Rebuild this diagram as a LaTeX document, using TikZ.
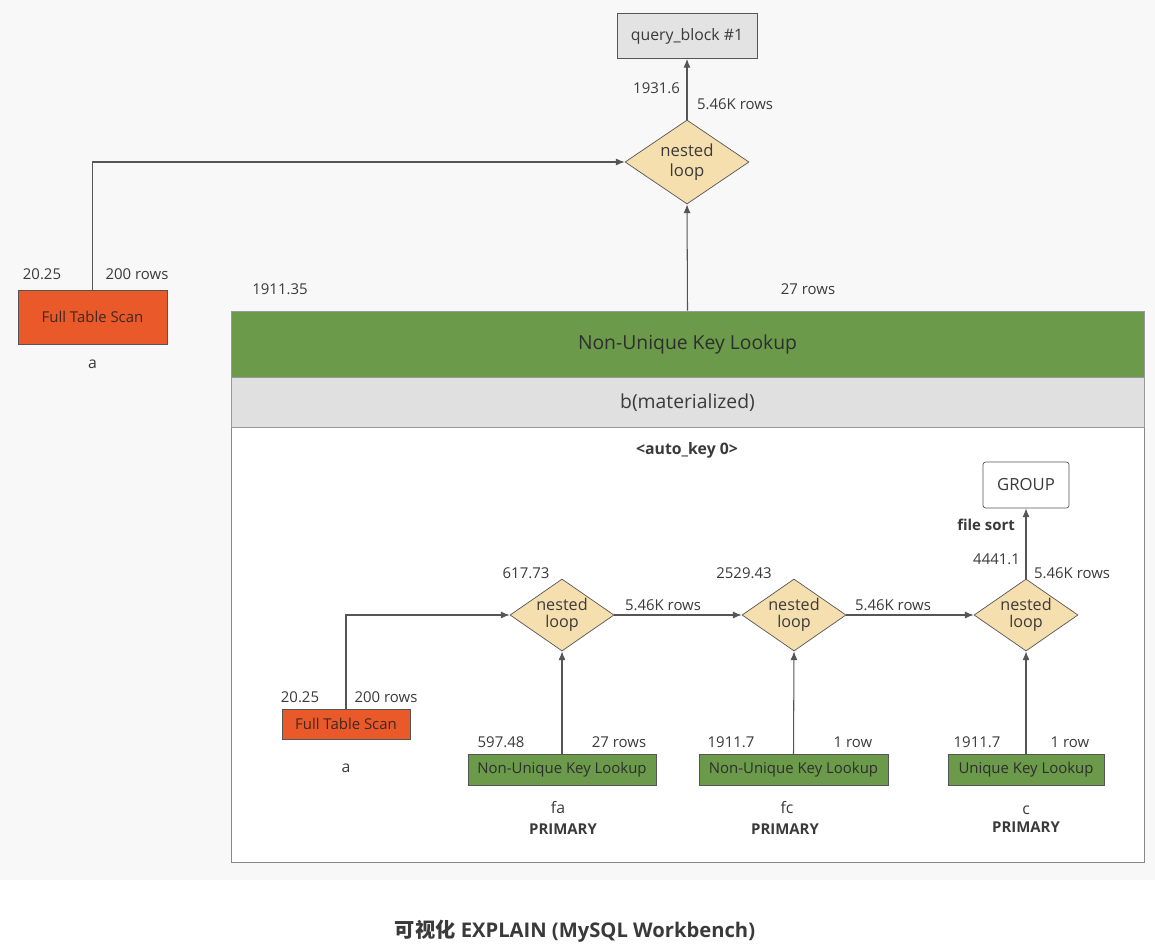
\documentclass[tikz,border=0pt]{standalone}
\usepackage{fontspec}
\setmainfont{Open Sans}
\newfontfamily\cjkfont{Noto Sans CJK SC}
\usepackage{xcolor}
\usetikzlibrary{arrows.meta,positioning,shapes.geometric}
\definecolor{bgGray}{HTML}{F8F8F8}
\definecolor{loopFill}{HTML}{F6DFAF}
\definecolor{scanRed}{HTML}{E9592A}
\definecolor{lookGreen}{HTML}{6A9A4A}
\definecolor{bandGray}{HTML}{E0E0E0}
\definecolor{queryGray}{HTML}{E3E3E3}
\definecolor{lineGray}{HTML}{555555}
\definecolor{txtDark}{HTML}{3A3A3A}

\tikzset{
  loopnode/.style={diamond, aspect=1.45, draw=lineGray, fill=loopFill, inner sep=0pt, align=center,
    minimum width=2.08cm, minimum height=1.44cm, font=\fontsize{9.2}{10}\selectfont, text=txtDark},
  scanbox/.style={draw=lineGray, fill=scanRed, text=txtDark!70!scanRed!60!black,
    font=\fontsize{8.5}{10}\selectfont, inner sep=0pt},
  lookbox/.style={draw=lineGray, fill=lookGreen, text=txtDark!80!black,
    font=\fontsize{8.5}{10}\selectfont, minimum height=0.62cm, inner sep=0pt},
  lbl/.style={font=\fontsize{8.5}{9.5}\selectfont, text=txtDark, inner sep=1pt},
  flow/.style={draw=lineGray, semithick, -{Latex[length=5pt,width=4pt]}},
}

\begin{document}
\begin{tikzpicture}[x=0.02cm, y=-0.02cm]
  \useasboundingbox (0,0) rectangle (1155,950);
  \fill[bgGray] (0,0) rectangle (1155,880);

  % top of the plan
  \node[draw=lineGray, fill=queryGray, minimum width=2.8cm, minimum height=0.9cm,
    font=\fontsize{9}{10}\selectfont, text=txtDark] (qblock) at (687,36) {query\_block \#1};
  \node[loopnode, aspect=1.48, minimum width=2.48cm, minimum height=1.68cm, font=\fontsize{9.5}{11}\selectfont]
    (nltop) at (687,162) {nested\\loop};
  \draw[flow] (nltop.north) -- (qblock.south);
  \node[lbl, anchor=east] (ctop) at (682,88) {1931.6};
  \node[lbl, anchor=west] (rtop) at (695,104) {5.46K rows};

  % outer table a
  \node[scanbox, minimum width=2.98cm, minimum height=1.08cm] (scana) at (92.5,317) {Full Table Scan};
  \node[lbl, anchor=south, font=\fontsize{9}{10}\selectfont] (tba) at (92.5,371) {a};
  \node[lbl] (cscana) at (42,274) {20.25};
  \node[lbl] (rscana) at (137,274) {200 rows};
  \draw[flow] (scana.north) |- (nltop.west);

  % materialized derived table b
  \node[draw=lineGray!70, fill=white, minimum width=18.26cm, minimum height=11.02cm] (bbox) at (687.5,586.5) {};
  \node[fill=lookGreen, draw=lineGray!60, anchor=north, minimum width=18.26cm, minimum height=1.32cm,
    font=\fontsize{11}{12}\selectfont, text=txtDark!80!black] (bhead) at (bbox.north) {Non-Unique Key Lookup};
  \node[fill=bandGray, draw=lineGray!60, anchor=north, minimum width=18.26cm, minimum height=1.0cm,
    font=\fontsize{11}{12}\selectfont, text=txtDark] (bmat) at (bhead.south) {b(materialized)};
  \node[font=\bfseries\fontsize{9}{10}\selectfont, text=txtDark] (akey) at (687,450) {<auto\_key 0>};
  \draw[flow] (bbox.north) -- (nltop.south);
  \node[lbl] (cb) at (280,289) {1911.35};
  \node[lbl] (rb) at (808,289) {27 rows};

  % inside b
  \node[draw=lineGray, fill=white, rounded corners=1.5pt, minimum width=1.72cm, minimum height=0.92cm,
    font=\fontsize{9.5}{11}\selectfont, text=txtDark] (grp) at (1026,485) {GROUP};
  \node[loopnode] (nl1) at (562,615) {nested\\loop};
  \node[loopnode] (nl2) at (794,615) {nested\\loop};
  \node[loopnode] (nl3) at (1026,615) {nested\\loop};
  \draw[flow] (nl3.north) -- (grp.south);
  \draw[flow] (nl1.east) -- (nl2.west);
  \draw[flow] (nl2.east) -- (nl3.west);
  \node[font=\bfseries\fontsize{8.5}{9.5}\selectfont, text=txtDark] (fsort) at (986,525) {file sort};
  \node[lbl, anchor=east] (cnl3) at (1022,559) {4441.1};
  \node[lbl, anchor=west] (rnl3) at (1032,573) {5.46K rows};
  \node[lbl] (cnl1) at (526,573) {617.73};
  \node[lbl] (cnl2) at (744,573) {2529.43};
  \node[lbl] (rnl1) at (663,605) {5.46K rows};
  \node[lbl] (rnl2) at (893,605) {5.46K rows};

  % table a inside b
  \node[scanbox, minimum width=2.56cm, minimum height=0.6cm] (scanai) at (346,724) {Full Table Scan};
  \node[lbl, anchor=south, font=\fontsize{9}{10}\selectfont] (tbai) at (346,775) {a};
  \node[lbl] (cscanai) at (300,697) {20.25};
  \node[lbl] (rscanai) at (386,697) {200 rows};
  \draw[flow] (scanai.north) |- (nl1.west);

  % table fa
  \node[lookbox, minimum width=3.76cm] (lkfa) at (562,770) {Non-Unique Key Lookup};
  \node[lbl] (cfa) at (501,742) {597.48};
  \node[lbl] (rfa) at (619,742) {27 rows};
  \node[lbl, font=\fontsize{9}{10}\selectfont] (tfa) at (558,808) {fa};
  \node[lbl, font=\bfseries\fontsize{8.5}{10}\selectfont] (kfa) at (563,829) {PRIMARY};
  \draw[flow] (lkfa.north) -- (nl1.south);

  % table fc
  \node[lookbox, minimum width=3.78cm] (lkfc) at (793.5,770) {Non-Unique Key Lookup};
  \node[lbl] (cfc) at (731,742) {1911.7};
  \node[lbl] (rfc) at (853,742) {1 row};
  \node[lbl, font=\fontsize{9}{10}\selectfont] (tfc) at (787,808) {fc};
  \node[lbl, font=\bfseries\fontsize{8.5}{10}\selectfont] (kfc) at (785,829) {PRIMARY};
  \draw[flow] (lkfc.north) -- (nl2.south);

  % table c
  \node[lookbox, minimum width=3.12cm] (lkc) at (1026,770) {Unique Key Lookup};
  \node[lbl] (cc) at (977,742) {1911.7};
  \node[lbl] (rc) at (1070,742) {1 row};
  \node[lbl, font=\fontsize{9}{10}\selectfont] (tc) at (1026,810) {c};
  \node[lbl, font=\bfseries\fontsize{8.5}{10}\selectfont] (kc) at (1026,827) {PRIMARY};
  \draw[flow] (lkc.north) -- (nl3.south);

  % caption
  \node[font=\bfseries\fontsize{11.5}{13}\selectfont, text=txtDark] (cap) at (575,931)
    {{\cjkfont 可视化} EXPLAIN (MySQL Workbench)};
\end{tikzpicture}
\end{document}
